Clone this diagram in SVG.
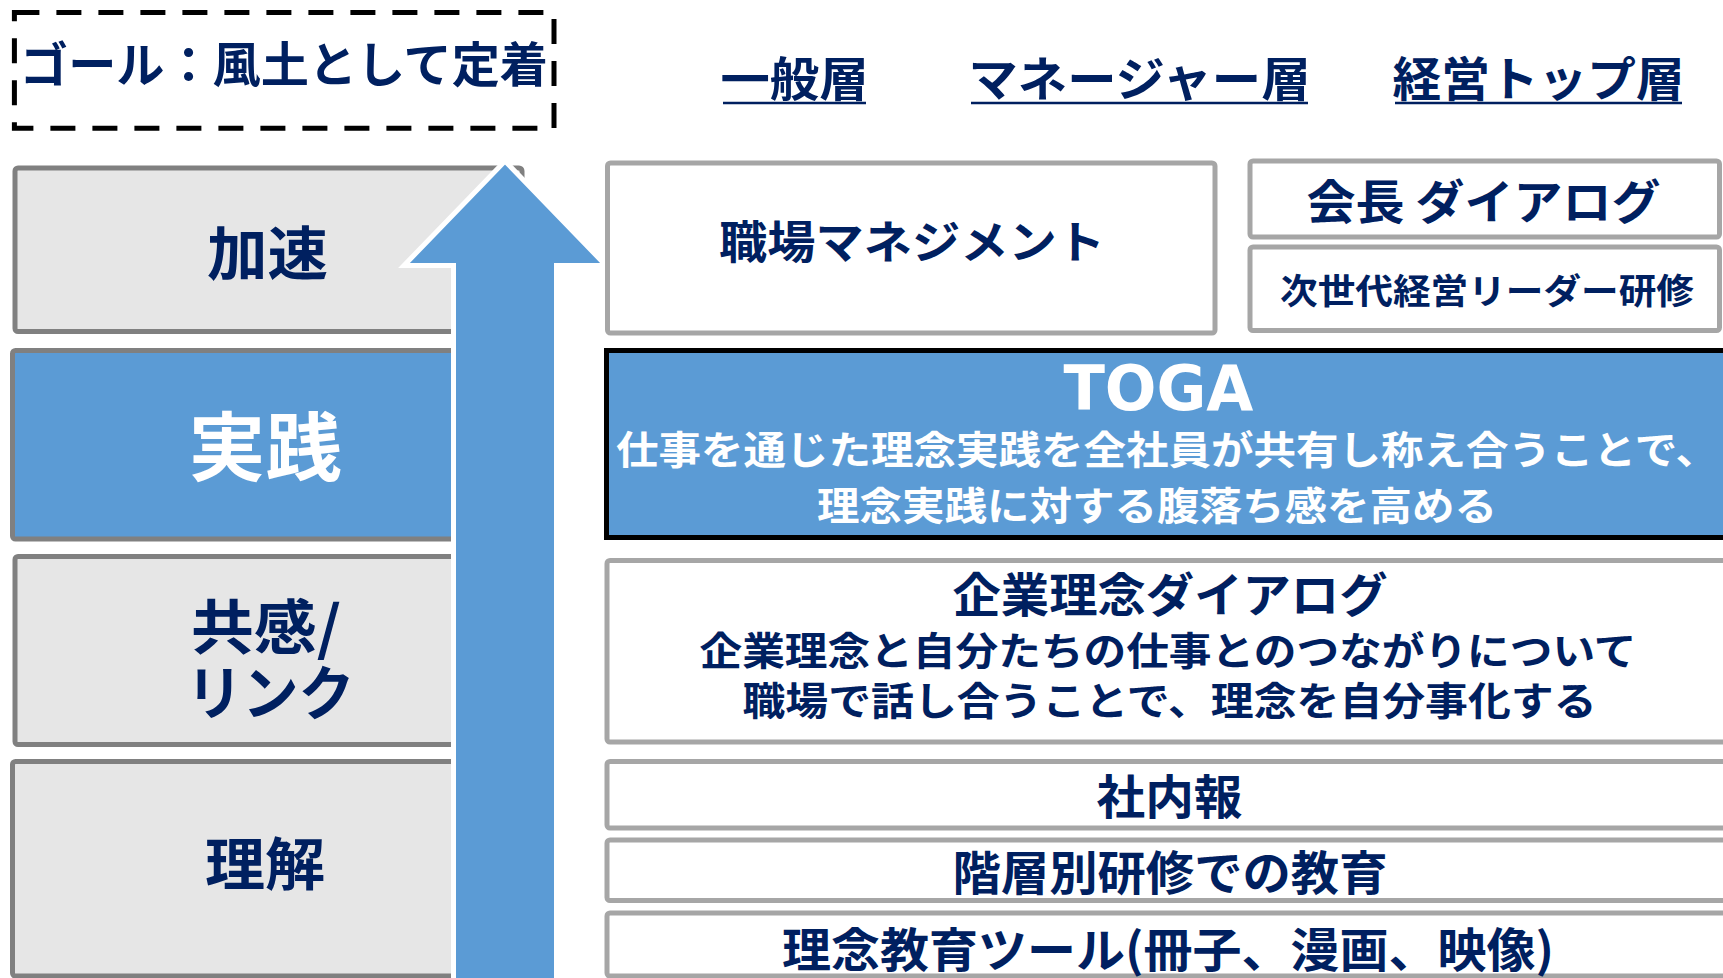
<svg xmlns="http://www.w3.org/2000/svg" width="1723" height="978" viewBox="0 0 1723 978">
<style>
  .t { font-family: "Noto Sans CJK JP", "Noto Sans", sans-serif; font-weight: 700; fill: #002060; text-anchor: middle; }
  .w { fill: #FFFFFF; }
  .lbox { fill: #E6E6E6; stroke: #808080; stroke-width: 5; }
  .lboxb { fill: #5B9BD5; stroke: #808080; stroke-width: 5; }
  .rbox { fill: #FFFFFF; stroke: #A6A6A6; stroke-width: 5; }
  .ul { stroke: #002060; stroke-width: 2.5; }
</style>
<rect width="1723" height="978" fill="#FFFFFF"/>

<g id="goal">
  <rect x="14.4" y="12.5" width="539.6" height="115.8" fill="none" stroke="#000000" stroke-width="5" stroke-dasharray="25 17"/>
  <text class="t" x="284" y="81.7" font-size="48" textLength="528" lengthAdjust="spacingAndGlyphs">ゴール：風土として定着</text>
</g>

<g id="header-general">
  <text class="t" x="794.5" y="96.4" font-size="47" textLength="148" lengthAdjust="spacingAndGlyphs">一般層</text>
  <line class="ul" x1="723" y1="103" x2="866" y2="103"/>
</g>
<g id="header-manager">
  <text class="t" x="1139.5" y="96.4" font-size="47" textLength="342" lengthAdjust="spacingAndGlyphs">マネージャー層</text>
  <line class="ul" x1="971" y1="103" x2="1308" y2="103"/>
</g>
<g id="header-top">
  <text class="t" x="1538.5" y="96.4" font-size="47" textLength="292" lengthAdjust="spacingAndGlyphs">経営トップ層</text>
  <line class="ul" x1="1395" y1="103" x2="1682" y2="103"/>
</g>

<g id="stage-accelerate">
  <rect class="lbox" x="15" y="168" width="507" height="163.5" rx="3"/>
  <text class="t" x="267.5" y="274.5" font-size="58" textLength="121" lengthAdjust="spacingAndGlyphs">加速</text>
</g>
<g id="stage-practice">
  <rect class="lboxb" x="12.5" y="350.5" width="509" height="188.5" rx="3"/>
  <text class="t w" x="265.3" y="475" font-size="75" textLength="153" lengthAdjust="spacingAndGlyphs">実践</text>
</g>
<g id="stage-empathy">
  <rect class="lbox" x="15" y="556.5" width="507" height="188" rx="3"/>
  <text class="t" x="266" y="649" font-size="59" textLength="150" lengthAdjust="spacingAndGlyphs">共感/</text>
  <text class="t" x="270.5" y="715" font-size="59" textLength="168" lengthAdjust="spacingAndGlyphs">リンク</text>
</g>
<g id="stage-understand">
  <rect class="lbox" x="12.5" y="761.5" width="509" height="214.5" rx="3"/>
  <text class="t" x="265" y="884.7" font-size="57" textLength="120" lengthAdjust="spacingAndGlyphs">理解</text>
</g>

<g id="connectors">
  <path d="M505 161 L606 265.5 L556.5 265.5 L556.5 995 L453.5 995 L453.5 265.5 L404 265.5 Z" fill="#5B9BD5" stroke="#FFFFFF" stroke-width="5" stroke-linejoin="miter"/>
</g>

<g id="workplace-management">
  <rect class="rbox" x="607.5" y="163" width="607.5" height="170" rx="3"/>
  <text class="t" x="912" y="258.8" font-size="45" textLength="386" lengthAdjust="spacingAndGlyphs">職場マネジメント</text>
</g>
<g id="chairman-dialog">
  <rect class="rbox" x="1250" y="161" width="469.5" height="76" rx="3"/>
  <text class="t" x="1483.5" y="218.9" font-size="47" textLength="354" lengthAdjust="spacingAndGlyphs">会長 ダイアログ</text>
</g>
<g id="next-gen-training">
  <rect class="rbox" x="1250" y="247" width="469.5" height="83.5" rx="3"/>
  <text class="t" x="1487" y="303.8" font-size="35" textLength="414" lengthAdjust="spacingAndGlyphs">次世代経営リーダー研修</text>
</g>
<g id="toga">
  <rect x="606.5" y="350.5" width="1130" height="187" fill="#5B9BD5" stroke="#000000" stroke-width="5"/>
  <text x="1158.4" y="410" font-family="'DejaVu Sans', Verdana, sans-serif" font-weight="700" font-size="62" fill="#FFFFFF" text-anchor="middle" textLength="190" lengthAdjust="spacingAndGlyphs">TOGA</text>
  <text class="t w" x="1167" y="464.3" font-size="39" textLength="1102" lengthAdjust="spacingAndGlyphs">仕事を通じた理念実践を全社員が共有し称え合うことで、</text>
  <text class="t w" x="1157" y="519.8" font-size="39" textLength="680" lengthAdjust="spacingAndGlyphs">理念実践に対する腹落ち感を高める</text>
</g>
<g id="philosophy-dialog">
  <rect class="rbox" x="607" y="560.5" width="1130" height="181.5" rx="3"/>
  <text class="t" x="1170" y="611.5" font-size="47" textLength="435" lengthAdjust="spacingAndGlyphs">企業理念ダイアログ</text>
  <text class="t" x="1168" y="664.8" font-size="39" textLength="937" lengthAdjust="spacingAndGlyphs">企業理念と自分たちの仕事とのつながりについて</text>
  <text class="t" x="1169.5" y="714.8" font-size="39" textLength="854" lengthAdjust="spacingAndGlyphs">職場で話し合うことで、理念を自分事化する</text>
</g>
<g id="in-house-newsletter">
  <rect class="rbox" x="607" y="761.5" width="1130" height="66.5" rx="3"/>
  <text class="t" x="1169.5" y="813.9" font-size="47" textLength="146" lengthAdjust="spacingAndGlyphs">社内報</text>
</g>
<g id="tiered-training">
  <rect class="rbox" x="607" y="840" width="1130" height="60.5" rx="3"/>
  <text class="t" x="1170" y="890.4" font-size="47" textLength="435" lengthAdjust="spacingAndGlyphs">階層別研修での教育</text>
</g>
<g id="education-tools">
  <rect class="rbox" x="607" y="913" width="1130" height="63" rx="3"/>
  <text class="t" x="1168" y="966.9" font-size="47" textLength="772" lengthAdjust="spacingAndGlyphs">理念教育ツール(冊子、漫画、映像)</text>
</g>
</svg>
